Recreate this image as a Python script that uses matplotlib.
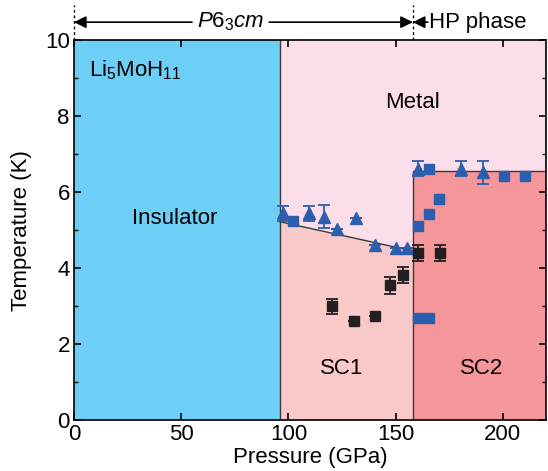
import matplotlib
matplotlib.use("Agg")
import matplotlib.pyplot as plt
from matplotlib.ticker import MultipleLocator
import numpy as np

plt.rcParams['font.family'] = ['Liberation Sans', 'DejaVu Sans']
plt.rcParams['mathtext.fontset'] = 'custom'
plt.rcParams['mathtext.rm'] = 'Liberation Sans'
plt.rcParams['mathtext.it'] = 'Liberation Sans:italic'

# --- data ---
tri_P = [97.4, 109.4, 116.4, 122.5, 131.5, 140.5, 150.1, 155.3, 160.5, 180.5, 190.5]
tri_T = [5.44, 5.44, 5.35, 5.02, 5.32, 4.60, 4.52, 4.52, 6.62, 6.62, 6.52]
tri_err = [0.20, 0.20, 0.30, 0.0, 0.0, 0.0, 0.0, 0.0, 0.21, 0.21, 0.31]

bsq_P = [102.3, 165.6, 200.5, 210.4, 170.4, 165.4, 160.5, 160.5, 165.6]
bsq_T = [5.24, 6.62, 6.43, 6.43, 5.82, 5.42, 5.11, 2.70, 2.70]

ksq_P = [120.3, 130.4, 140.5, 147.4, 153.5, 160.5, 170.6]
ksq_T = [3.00, 2.61, 2.75, 3.55, 3.82, 4.40, 4.40]
ksq_err = [0.20, 0.0, 0.0, 0.22, 0.21, 0.22, 0.22]

# phase boundaries
P_ins = 96
P_hp = 158
line_P = [96, 158]
line_T = [5.22, 4.45]
T_sc2 = 6.55
x_max = 220
y_max = 10

c_ins = '#6dcff6'
c_metal = '#fcdeeb'
c_sc1 = '#f9c9c9'
c_sc2 = '#f5969a'
c_blue = '#2b5fae'
c_black = '#231f20'
c_edge = '#3a3a3a'

fig = plt.figure(figsize=(5.48, 4.71), dpi=100)
ax = fig.add_axes([0.135, 0.108, 0.861, 0.807])

ax.fill_between([0, P_ins], 0, y_max, color=c_ins, lw=0, zorder=0)
ax.fill_between([P_ins, x_max], 0, y_max, color=c_metal, lw=0, zorder=0)
ax.fill_between(line_P, 0, line_T, color=c_sc1, lw=0, zorder=0.5)
ax.fill_between([P_hp, x_max], 0, T_sc2, color=c_sc2, lw=0, zorder=0.5)
ax.plot([P_ins, P_ins], [0, y_max], color=c_edge, lw=1.0, zorder=1)
ax.plot([P_hp, P_hp, x_max], [0, T_sc2, T_sc2], color=c_edge, lw=1.0, zorder=1)
ax.plot(line_P, line_T, color=c_edge, lw=1.0, zorder=1)

ax.errorbar(tri_P, tri_T, yerr=tri_err, fmt='^', color=c_blue, ms=8,
            capsize=4, elinewidth=1.3, capthick=1.3, zorder=3)
ax.plot(bsq_P, bsq_T, 's', color=c_blue, ms=7.5, zorder=3)
ax.errorbar(ksq_P, ksq_T, yerr=ksq_err, fmt='s', color=c_black, ms=7.5,
            capsize=4, elinewidth=1.3, capthick=1.3, zorder=3)

ax.set_xlim(0, x_max)
ax.set_ylim(0, y_max)
ax.xaxis.set_major_locator(MultipleLocator(50))
ax.yaxis.set_major_locator(MultipleLocator(2))
ax.yaxis.set_minor_locator(MultipleLocator(1))
ax.tick_params(direction='in', top=True, right=True, labelsize=16, length=5, width=1.2, pad=3)
ax.tick_params(which='minor', direction='in', right=True, left=True, length=3, width=1.0)
for s in ax.spines.values():
    s.set_linewidth(1.2)
ax.set_xlabel('Pressure (GPa)', fontsize=16, labelpad=1)
ax.set_ylabel('Temperature (K)', fontsize=16, labelpad=9)

fs = 16
ax.text(7, 9.2, 'Li$_5$MoH$_{11}$', fontsize=fs, ha='left', va='center')
ax.text(47, 5.3, 'Insulator', fontsize=fs, ha='center', va='center')
ax.text(158, 8.35, 'Metal', fontsize=fs, ha='center', va='center')
ax.text(125, 1.37, 'SC1', fontsize=fs, ha='center', va='center')
ax.text(190, 1.37, 'SC2', fontsize=fs, ha='center', va='center')

# top annotations
ya = 10.47
for xv in [0, P_hp]:
    ax.plot([xv, xv], [y_max, 10.92], ls=(0, (2, 2)), color='k', lw=1.0, clip_on=False)
ap = dict(arrowstyle='-|>', color='k', lw=1.2, mutation_scale=18, shrinkA=0, shrinkB=0)
ax.annotate('', xy=(0, ya), xytext=(55, ya), arrowprops=ap, annotation_clip=False)
ax.annotate('', xy=(P_hp, ya), xytext=(91, ya), arrowprops=ap, annotation_clip=False)
ax.text(73, ya, '$P$6$_3$$cm$', fontsize=16, ha='center', va='center', clip_on=False)
ax.annotate('', xy=(P_hp, ya), xytext=(165, ya), arrowprops=ap, annotation_clip=False)
ax.text(165.5, ya, 'HP phase', fontsize=16, ha='left', va='center', clip_on=False)

fig.savefig('out.png', dpi=100)
